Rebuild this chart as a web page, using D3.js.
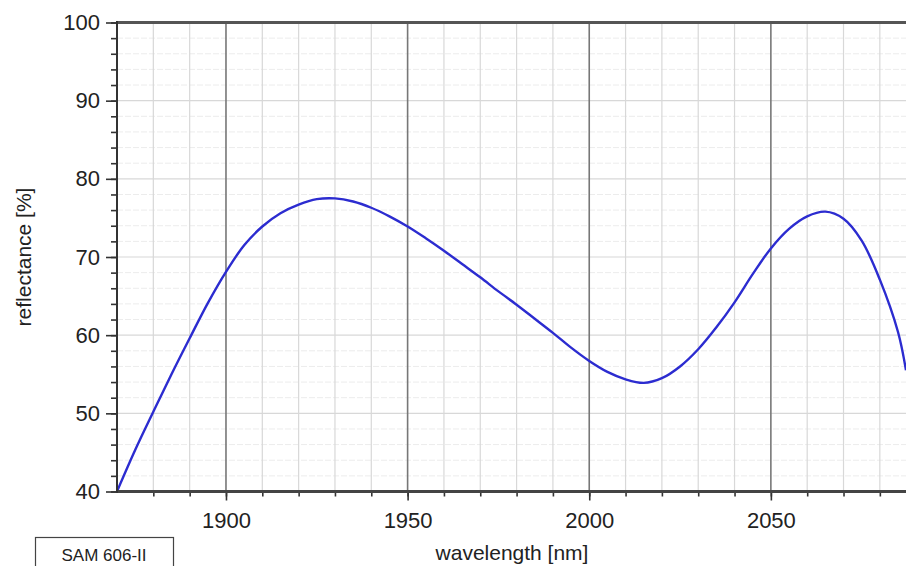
<!DOCTYPE html>
<html>
<head>
<meta charset="utf-8">
<script src="https://cdn.jsdelivr.net/npm/d3@7"></script>
<style>
  body { margin: 0; background: #fff; }
  svg { display: block; font-family: "Liberation Sans", Arial, sans-serif; }
  .tick text { fill: #222; }
</style>
</head>
<body>
<div id="chart"></div>
<script>
// Measured reflectance curve (wavelength in nm, reflectance in %)
var wavelengths = [1870, 1875, 1880, 1885, 1890, 1895, 1900, 1905, 1910, 1915, 1920, 1925,
                   1930, 1935, 1940, 1945, 1950, 1955, 1960, 1965, 1970, 1975, 1980, 1985,
                   1990, 1995, 2000, 2005, 2010, 2015, 2020, 2025, 2030, 2035, 2040, 2045,
                   2050, 2055, 2060, 2065, 2070, 2075, 2080, 2085, 2087.2];
var reflectance = [40.0, 45.3, 50.2, 55.0, 59.6, 64.1, 68.1, 71.5, 73.9, 75.6, 76.7, 77.4,
                   77.5, 77.1, 76.3, 75.2, 73.9, 72.4, 70.8, 69.1, 67.4, 65.6, 63.9, 62.1,
                   60.3, 58.4, 56.7, 55.3, 54.35, 53.9, 54.5, 56.0, 58.2, 61.0, 64.2, 67.8,
                   71.1, 73.6, 75.2, 75.8, 74.9, 72.1, 67.1, 60.4, 55.5];

var xTickLabels = [1900, 1950, 2000, 2050];
var yTickLabels = [40, 50, 60, 70, 80, 90, 100];
var xLabel = 'wavelength [nm]';
var yLabel = 'reflectance [%]';
var sampleName = 'SAM 606-II';

var data = wavelengths.map(function(w, i) {
  return { wavelength: w, reflectance: reflectance[i] };
});

var fullWidth = 906, fullHeight = 566;
var margin = { top: 22.5, right: 0, bottom: 74.5, left: 117 },
    width = fullWidth - margin.left - margin.right,
    height = fullHeight - margin.top - margin.bottom;

var svg = d3.select('#chart')
            .append('svg')
            .attr('width', fullWidth)
            .attr('height', fullHeight);

var g = svg.append('g')
           .attr('transform', 'translate(' + margin.left + ',' + margin.top + ')');

// Scales (plot is cut off on the right, just past 2087 nm)
var x = d3.scaleLinear().domain([1870, 2087.2]).range([0, width]);
var y = d3.scaleLinear().domain([40, 100]).range([height, 0]);

// Grid: minor horizontal lines every 2 %
g.append('g')
 .selectAll('line')
 .data(d3.range(42, 100, 2).filter(function(v) { return v % 10 !== 0; }))
 .enter().append('line')
 .attr('x1', 0).attr('x2', width)
 .attr('y1', function(d) { return y(d); })
 .attr('y2', function(d) { return y(d); })
 .attr('stroke', '#ececec')
 .attr('stroke-dasharray', '6,2');

// Grid: major horizontal lines every 10 %
g.append('g')
 .selectAll('line')
 .data(d3.range(50, 100, 10))
 .enter().append('line')
 .attr('x1', 0).attr('x2', width)
 .attr('y1', function(d) { return y(d); })
 .attr('y2', function(d) { return y(d); })
 .attr('stroke', '#d8d8d8')
 .attr('stroke-width', 1.2);

// Grid: vertical lines every 10 nm, darker every 50 nm
g.append('g')
 .selectAll('line')
 .data(d3.range(1880, 2090, 10))
 .enter().append('line')
 .attr('x1', function(d) { return x(d); })
 .attr('x2', function(d) { return x(d); })
 .attr('y1', 0).attr('y2', height)
 .attr('stroke', function(d) { return d % 50 === 0 ? '#777' : '#d8d8d8'; })
 .attr('stroke-width', function(d) { return d % 50 === 0 ? 1.6 : 1.2; });

// Curve
var line = d3.line()
             .curve(d3.curveCatmullRom.alpha(0.5))
             .x(function(d) { return x(d.wavelength); })
             .y(function(d) { return y(d.reflectance); });

g.append('clipPath').attr('id', 'plot-clip')
 .append('rect').attr('x', 0).attr('y', 0).attr('width', width).attr('height', height);

g.append('path')
 .datum(data)
 .attr('clip-path', 'url(#plot-clip)')
 .attr('fill', 'none')
 .attr('stroke', '#2c2cd0')
 .attr('stroke-width', 2.4)
 .attr('d', line);

// Frame line on top
g.append('line')
 .attr('x1', 0).attr('x2', width).attr('y1', 0).attr('y2', 0)
 .attr('stroke', '#555').attr('stroke-width', 3);

// X axis: minor ticks every 10 nm, labelled ticks every 50 nm
var xMinor = g.append('g')
              .attr('transform', 'translate(0,' + height + ')')
              .call(d3.axisBottom(x)
                      .tickValues(d3.range(1880, 2090, 10))
                      .tickSize(5)
                      .tickFormat(''));
var xMajor = g.append('g')
              .attr('transform', 'translate(0,' + height + ')')
              .call(d3.axisBottom(x)
                      .tickValues(xTickLabels)
                      .tickSize(9)
                      .tickPadding(12)
                      .tickFormat(d3.format('d')));
xMajor.selectAll('text').style('font-size', '22px');

// Y axis: minor ticks every 2 %, labelled ticks every 10 %
var yMinor = g.append('g')
              .call(d3.axisLeft(y)
                      .tickValues(d3.range(40, 101, 2))
                      .tickSize(6)
                      .tickFormat(''));
var yMajor = g.append('g')
              .call(d3.axisLeft(y)
                      .tickValues(yTickLabels)
                      .tickSize(11)
                      .tickPadding(6)
                      .tickFormat(d3.format('d')));
yMajor.selectAll('text').style('font-size', '22px');

// Axis styling
[xMinor, xMajor, yMinor, yMajor].forEach(function(ax) {
  ax.select('.domain').remove();
  ax.selectAll('.tick line').attr('stroke', '#333').attr('stroke-width', 1.6);
});

g.append('line')
 .attr('x1', 0).attr('x2', width).attr('y1', height).attr('y2', height)
 .attr('stroke', '#444').attr('stroke-width', 3);
g.append('line')
 .attr('x1', 0).attr('x2', 0).attr('y1', -1.5).attr('y2', height + 1.5)
 .attr('stroke', '#333').attr('stroke-width', 2);

// Axis titles
svg.append('text')
   .attr('x', 512)
   .attr('y', 560)
   .attr('text-anchor', 'middle')
   .style('font-size', '21px')
   .attr('fill', '#222')
   .text(xLabel);

svg.append('text')
   .attr('transform', 'translate(31,257) rotate(-90)')
   .attr('text-anchor', 'middle')
   .style('font-size', '21px')
   .attr('fill', '#222')
   .text(yLabel);

// Sample label box
svg.append('rect')
   .attr('x', 35.5).attr('y', 537.5)
   .attr('width', 138).attr('height', 40)
   .attr('fill', '#fff')
   .attr('stroke', '#444')
   .attr('stroke-width', 1.2);

svg.append('text')
   .attr('x', 104)
   .attr('y', 561)
   .attr('text-anchor', 'middle')
   .style('font-size', '17px')
   .attr('fill', '#222')
   .text(sampleName);
</script>
</body>
</html>
